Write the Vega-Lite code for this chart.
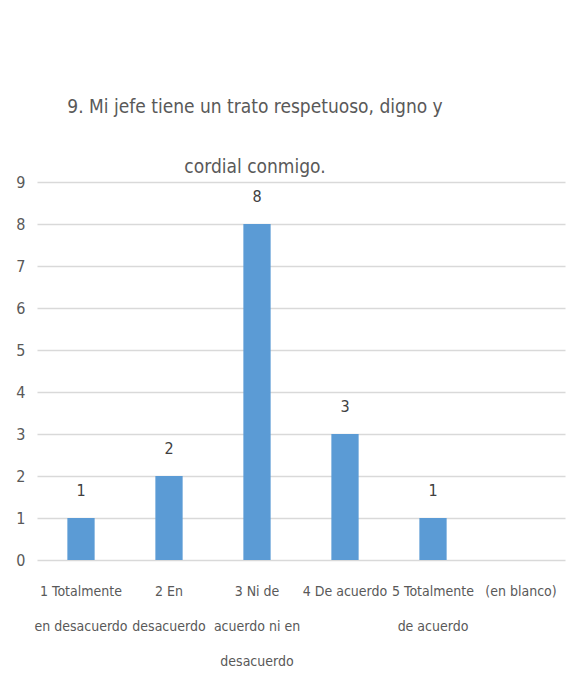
{
  "$schema": "https://vega.github.io/schema/vega-lite/v6.json",
  "autosize": {"type": "none"},
  "width": 528,
  "height": 378,
  "padding": {"left": 37, "top": 182, "right": 11, "bottom": 140},
  "background": "white",
  "title": {
    "text": ["9. Mi jefe tiene un trato respetuoso, digno y", "cordial conmigo."],
    "font": "DejaVu Sans Condensed",
    "fontSize": 19,
    "fontWeight": "normal",
    "color": "#595959",
    "lineHeight": 60,
    "anchor": "middle",
    "dx": -46,
    "offset": -3
  },
  "data": {
    "values": [
      {"respuesta": "1 Totalmente en desacuerdo", "cantidad": 1},
      {"respuesta": "2 En desacuerdo", "cantidad": 2},
      {"respuesta": "3 Ni de acuerdo ni en desacuerdo", "cantidad": 8},
      {"respuesta": "4 De acuerdo", "cantidad": 3},
      {"respuesta": "5 Totalmente de acuerdo", "cantidad": 1},
      {"respuesta": "(en blanco)", "cantidad": null}
    ]
  },
  "encoding": {
    "x": {
      "field": "respuesta",
      "type": "nominal",
      "sort": null,
      "scale": {
        "domain": ["1 Totalmente en desacuerdo", "2 En desacuerdo", "3 Ni de acuerdo ni en desacuerdo", "4 De acuerdo", "5 Totalmente de acuerdo", "(en blanco)"],
        "paddingInner": 0.69,
        "paddingOuter": 0.345
      },
      "axis": {
        "title": null,
        "labelAngle": 0,
        "labelFont": "DejaVu Sans Condensed",
        "labelFontSize": 14,
        "labelColor": "#595959",
        "labelLineHeight": 35,
        "labelBaseline": "top",
        "labelPadding": 24,
        "labelLimit": 200,
        "domain": false,
        "ticks": false,
        "labelExpr": "({'1 Totalmente en desacuerdo': ['1 Totalmente', 'en desacuerdo'], '2 En desacuerdo': ['2 En', 'desacuerdo'], '3 Ni de acuerdo ni en desacuerdo': ['3 Ni de', 'acuerdo ni en', 'desacuerdo'], '4 De acuerdo': '4 De acuerdo', '5 Totalmente de acuerdo': ['5 Totalmente', 'de acuerdo'], '(en blanco)': '(en blanco)'})[datum.value]"
      }
    },
    "y": {
      "field": "cantidad",
      "type": "quantitative",
      "scale": {"domain": [0, 9], "nice": false},
      "axis": {
        "title": null,
        "values": [0, 1, 2, 3, 4, 5, 6, 7, 8, 9],
        "labelFont": "DejaVu Sans Condensed",
        "labelFontSize": 16,
        "labelColor": "#595959",
        "labelPadding": 12,
        "domain": false,
        "ticks": false,
        "grid": true,
        "gridColor": "#D9D9D9",
        "gridWidth": 1.5
      }
    }
  },
  "layer": [
    {"mark": {"type": "bar", "color": "#5B9BD5"}},
    {
      "mark": {
        "type": "text",
        "baseline": "bottom",
        "dy": -19,
        "font": "DejaVu Sans Condensed",
        "fontSize": 16,
        "color": "#404040"
      },
      "encoding": {"text": {"field": "cantidad", "type": "quantitative"}}
    }
  ],
  "config": {"view": {"stroke": null}}
}
